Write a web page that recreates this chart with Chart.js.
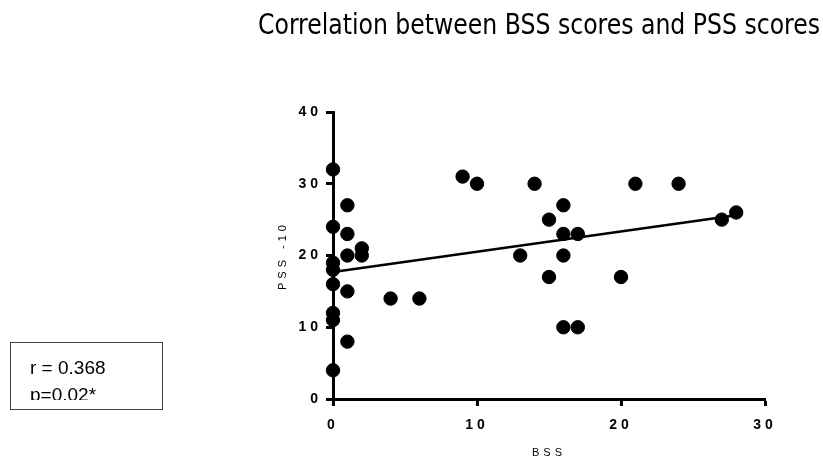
<!DOCTYPE html>
<html>
<head>
<meta charset="utf-8">
<script src="https://cdn.jsdelivr.net/npm/chart.js@4"></script>
<style>
  html, body { margin:0; padding:0; background:#fff; }
  #wrap { position:relative; width:823px; height:462px; overflow:hidden; }
  #c { position:absolute; left:0; top:0; }
  #title { position:absolute; left:258px; top:11px; font-family:"Liberation Sans Narrow","DejaVu Sans Condensed","Liberation Sans",sans-serif; font-size:28px; line-height:28px; color:#000; white-space:nowrap; transform-origin:0 0; }
  #statbox { position:absolute; left:10px; top:342px; width:153px; height:68px; border:1px solid #404040; box-sizing:border-box; }
  #stattext { position:absolute; left:19px; top:11px; height:46px; overflow:hidden; font-family:"Liberation Sans",Arial,sans-serif; font-size:19px; line-height:27px; color:#000; white-space:nowrap; }
</style>
</head>
<body>
<div id="wrap">
  <canvas id="c" width="823" height="462"></canvas>
  <div id="title"><span id="tspan">Correlation between BSS scores and PSS scores</span></div>
  <div id="statbox"><div id="stattext">r = 0.368<br>p=0.02*</div></div>
</div>
<script>
// Data
const bssScores = [0,0,0,0,0,0,0,0, 1,1,1,1,1, 2,2, 4,6, 9,10, 13,14, 15,15, 16,16,16,16, 17,17, 20,21,24,27,28];
const pssScores = [32,24,19,18,16,12,11,4, 27,23,20,15,8, 21,20, 14,14, 31,30, 20,30, 25,17, 27,23,20,10, 23,10, 17,30,30,25,26];
const fitX = [0, 28];
const fitY = [17.7, 25.6];
const xTicks = [0, 10, 20, 30];
const yTicks = [0, 10, 20, 30, 40];

// fit title to its width in the reference
(function () {
  const t = document.getElementById('title');
  const w = document.getElementById('tspan').getBoundingClientRect().width;
  const target = 562;
  t.style.transform = 'scaleX(' + (target / w) + ')';
})();

const points = bssScores.map((x, i) => ({ x: x, y: pssScores[i] }));
const fitLine = fitX.map((x, i) => ({ x: x, y: fitY[i] }));

const spacingPlugin = {
  id: 'spacing',
  beforeDraw(chart) { chart.ctx.letterSpacing = '4px'; },
  afterDraw(chart) { chart.ctx.letterSpacing = '0px'; }
};

new Chart(document.getElementById('c'), {
  type: 'scatter',
  data: {
    datasets: [
      { data: points, backgroundColor: '#000', borderColor: '#000', pointRadius: 6.7, pointHoverRadius: 6.7, clip: false, order: 1 },
      { type: 'line', data: fitLine, borderColor: '#000', borderWidth: 2.5, pointRadius: 0, fill: false, showLine: true, clip: false, order: 2 }
    ]
  },
  plugins: [spacingPlugin],
  options: {
    responsive: false,
    animation: false,
    events: [],
    layout: { padding: { left: 272, right: 58, top: 112, bottom: 2 } },
    plugins: { legend: { display: false }, tooltip: { enabled: false } },
    scales: {
      x: {
        type: 'linear', min: 0, max: 30,
        afterBuildTicks(s) { s.ticks = xTicks.map(v => ({ value: v })); },
        afterFit(s) { s.height = 61; },
        border: { display: true, color: '#000', width: 3 },
        grid: { drawOnChartArea: false, drawTicks: true, tickLength: 7, tickColor: '#000', tickWidth: 3 },
        ticks: { color: '#000', font: { family: 'Liberation Sans', size: 14, weight: 'bold' }, padding: 11, maxRotation: 0 },
        title: { display: true, text: 'BSS', color: '#000', font: { family: 'Liberation Sans', size: 11 }, padding: { top: 0, bottom: 0 } }
      },
      y: {
        type: 'linear', min: 0, max: 40,
        afterBuildTicks(s) { s.ticks = yTicks.map(v => ({ value: v })); },
        afterFit(s) { s.width = 61; },
        border: { display: true, color: '#000', width: 3 },
        grid: { drawOnChartArea: false, drawTicks: true, tickLength: 7, tickColor: '#000', tickWidth: 3 },
        ticks: { color: '#000', font: { family: 'Liberation Sans', size: 14, weight: 'bold' }, padding: 4 },
        title: { display: true, text: 'PSS -10', color: '#000', font: { family: 'Liberation Sans', size: 11 }, padding: { top: 4, bottom: 0 } }
      }
    }
  }
});
</script>
</body>
</html>
